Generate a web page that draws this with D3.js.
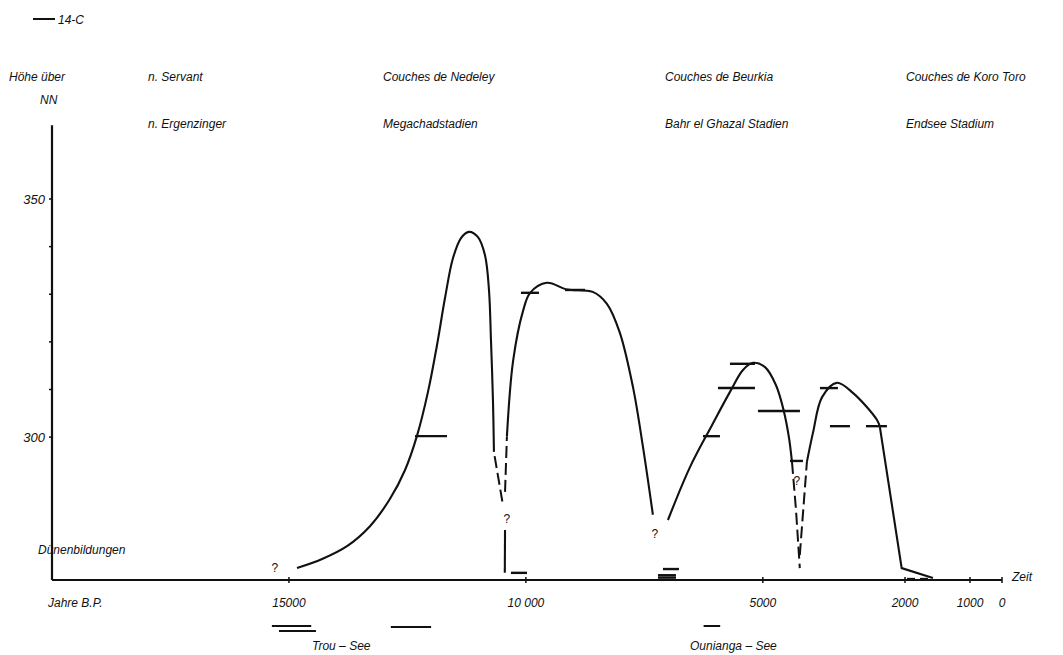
<!DOCTYPE html>
<html>
<head>
<meta charset="utf-8">
<script src="https://cdn.jsdelivr.net/npm/d3@7"></script>
<style>
body { margin: 0; background: #fff; }
text { font-family: "Liberation Sans", Arial, sans-serif; font-style: italic; font-size: 12px; fill: #111; }
</style>
</head>
<body>
<script>
// lake level curve, years B.P. / m above NN
var riseA = [[14830,272.5],[14300,274.4],[13775,277.1],[13290,281.3],[12870,287],[12550,293.1],[12300,300.2],[12066,309.5],[11876,319.3],[11707,329.2],[11538,337.6],[11369,341.8],[11200,343.1],[11011,342],[10863,338.2],[10779,330.9],[10737,320.4],[10695,307.8],[10674,296.9]];
var dashA = [[10660,296],[10480,285.5]];
var solidB = [[10440,280.5],[10445,271.5]];
var dashC = [[10440,288.5],[10400,300.2]];
var humpD = [[10400,300.2],[10270,316],[10060,326.5],[9910,330.3],[9560,332.4],[9130,331],[8590,330.5],[8290,328],[8020,322],[7740,310.5],[7530,298],[7320,283.7]];
var humpE = [[7002,282.6],[6537,293.7],[6073,302.5],[5693,309.5],[5419,314.1],[5208,315.6],[4954,314.7],[4722,310.9],[4553,305.3],[4447,299.8],[4385,294.8]];
var dashF = [[4385,294.8],[4300,284.7],[4220,272.5]];
var dashG = [[4220,275.2],[4070,294.8]];
var humpH = [[4070,294.8],[3940,301],[3750,308.4],[3440,311.4],[3100,309.3],[2590,303.6],[2530,302.1]];
var tailH = [[2530,302.1],[2070,272.5],[1570,270.4]];

// 14-C dates: [from, to, level]
var c14 = [[12340,11665,300.2],[10104,9724,330.3],[9175,8753,330.9],[10315,9977,271.5],[7213,6833,270.5],[7213,6833,271.0],[7107,6770,272.3],[6263,5905,300.2],[5947,5166,310.3],[5694,5166,315.4],[5103,4217,305.5],[4427,4153,295],[3795,3415,310.3],[3584,3162,302.3],[2824,2381,302.3],[1969,1846,270.2],[1769,1646,270.2]];

// dates below the axis: [from, to, row]
var trouSee = [[15360,14530,0],[15210,14430,1],[12850,12000,0.2]];
var ouniangaSee = [[6250,5900,0]];

var qMarks = [[15300,272.7],[10400,283],[7280,279.9],[4280,291]];

var xTicks = [15000,10000,5000,2000,1000,0];
var xTickLabels = ["15000","10 000","5000","2000","1000","0"];
var yTicks = [300,310,320,330,340,350];
var yTickLabels = {300:"300",350:"350"};

var headerTop = ["n. Servant","Couches de Nedeley","Couches de Beurkia","Couches de Koro Toro"];
var headerBottom = ["n. Ergenzinger","Megachadstadien","Bahr el Ghazal Stadien","Endsee Stadium"];

var width = 1063, height = 655;
var headerX = [148,383,665,906];

var svg = d3.select("body").append("svg")
    .attr("width", width)
    .attr("height", height);

svg.append("rect").attr("width", width).attr("height", height).attr("fill", "#fff");

var x = d3.scaleLinear()
    .domain([20000, 2000, 1000, 0])
    .range([52, 905, 970, 1002]);

var y = d3.scaleLinear()
    .domain([270, 350])
    .range([580, 199]);

// axes
svg.append("line")
    .attr("x1", x(20000)).attr("x2", x(0))
    .attr("y1", y(270)).attr("y2", y(270))
    .attr("stroke", "#111").attr("stroke-width", 2.2);
svg.append("line")
    .attr("x1", x(20000)).attr("x2", x(20000))
    .attr("y1", y(270)).attr("y2", y(365.5))
    .attr("stroke", "#111").attr("stroke-width", 2.2);

svg.selectAll(".xtick")
    .data(xTicks)
    .enter().append("line")
    .attr("x1", function(d) { return x(d); })
    .attr("x2", function(d) { return x(d); })
    .attr("y1", y(270) - 3).attr("y2", y(270) + 3)
    .attr("stroke", "#111").attr("stroke-width", 1.5);

svg.selectAll(".xlab")
    .data(xTicks)
    .enter().append("text")
    .attr("x", function(d) { return x(d); })
    .attr("y", 607)
    .attr("text-anchor", "middle")
    .text(function(d, i) { return xTickLabels[i]; });

svg.selectAll(".ytick")
    .data(yTicks)
    .enter().append("line")
    .attr("x1", x(20000) - 3).attr("x2", x(20000))
    .attr("y1", function(d) { return y(d); })
    .attr("y2", function(d) { return y(d); })
    .attr("stroke", "#111").attr("stroke-width", 1.5);

svg.selectAll(".ylab")
    .data(yTicks.filter(function(d) { return yTickLabels[d]; }))
    .enter().append("text")
    .attr("x", 45)
    .attr("y", function(d) { return y(d) + 5; })
    .attr("text-anchor", "end")
    .style("font-size", "13px")
    .text(function(d) { return yTickLabels[d]; });

// curve
var smooth = d3.line()
    .x(function(d) { return x(d[0]); })
    .y(function(d) { return y(d[1]); })
    .curve(d3.curveCatmullRom.alpha(0.5));
var straight = d3.line()
    .x(function(d) { return x(d[0]); })
    .y(function(d) { return y(d[1]); });

[riseA, humpD, humpE, humpH].forEach(function(seg) {
  svg.append("path").attr("d", smooth(seg))
    .attr("fill", "none").attr("stroke", "#111").attr("stroke-width", 2.1);
});
[solidB, tailH].forEach(function(seg) {
  svg.append("path").attr("d", straight(seg))
    .attr("fill", "none").attr("stroke", "#111").attr("stroke-width", 2.1);
});
[dashA, dashC, dashF, dashG].forEach(function(seg) {
  svg.append("path").attr("d", straight(seg))
    .attr("fill", "none").attr("stroke", "#111").attr("stroke-width", 2)
    .attr("stroke-dasharray", "12,5");
});

// 14-C dashes
svg.selectAll(".c14")
    .data(c14)
    .enter().append("line")
    .attr("x1", function(d) { return x(d[0]); })
    .attr("x2", function(d) { return x(d[1]); })
    .attr("y1", function(d) { return y(d[2]); })
    .attr("y2", function(d) { return y(d[2]); })
    .attr("stroke", "#111").attr("stroke-width", 2.4);

svg.selectAll(".lake")
    .data(trouSee.concat(ouniangaSee))
    .enter().append("line")
    .attr("x1", function(d) { return x(d[0]); })
    .attr("x2", function(d) { return x(d[1]); })
    .attr("y1", function(d) { return 626 + d[2] * 5; })
    .attr("y2", function(d) { return 626 + d[2] * 5; })
    .attr("stroke", "#111").attr("stroke-width", 2);

svg.selectAll(".q")
    .data(qMarks)
    .enter().append("text")
    .attr("x", function(d) { return x(d[0]); })
    .attr("y", function(d) { return y(d[1]) + 5; })
    .attr("text-anchor", "middle")
    .style("font-style", "normal")
    .text("?");

// labels
svg.selectAll(".ht")
    .data(headerTop)
    .enter().append("text")
    .attr("x", function(d, i) { return headerX[i]; })
    .attr("y", 81)
    .text(function(d) { return d; });
svg.selectAll(".hb")
    .data(headerBottom)
    .enter().append("text")
    .attr("x", function(d, i) { return headerX[i]; })
    .attr("y", 128)
    .text(function(d) { return d; });

svg.append("text").attr("x", 9).attr("y", 81).text("Höhe über");
svg.append("text").attr("x", 40).attr("y", 104).text("NN");
svg.append("line").attr("x1", 33).attr("x2", 55).attr("y1", 19).attr("y2", 19)
    .attr("stroke", "#111").attr("stroke-width", 2);
svg.append("text").attr("x", 58).attr("y", 24).text("14-C");
svg.append("text").attr("x", 38).attr("y", 554).text("Dünenbildungen");
svg.append("text").attr("x", 48).attr("y", 607).text("Jahre B.P.");
svg.append("text").attr("x", 1012).attr("y", 581).text("Zeit");
svg.append("text").attr("x", 312).attr("y", 650).text("Trou – See");
svg.append("text").attr("x", 690).attr("y", 650).text("Ounianga – See");
</script>
</body>
</html>
